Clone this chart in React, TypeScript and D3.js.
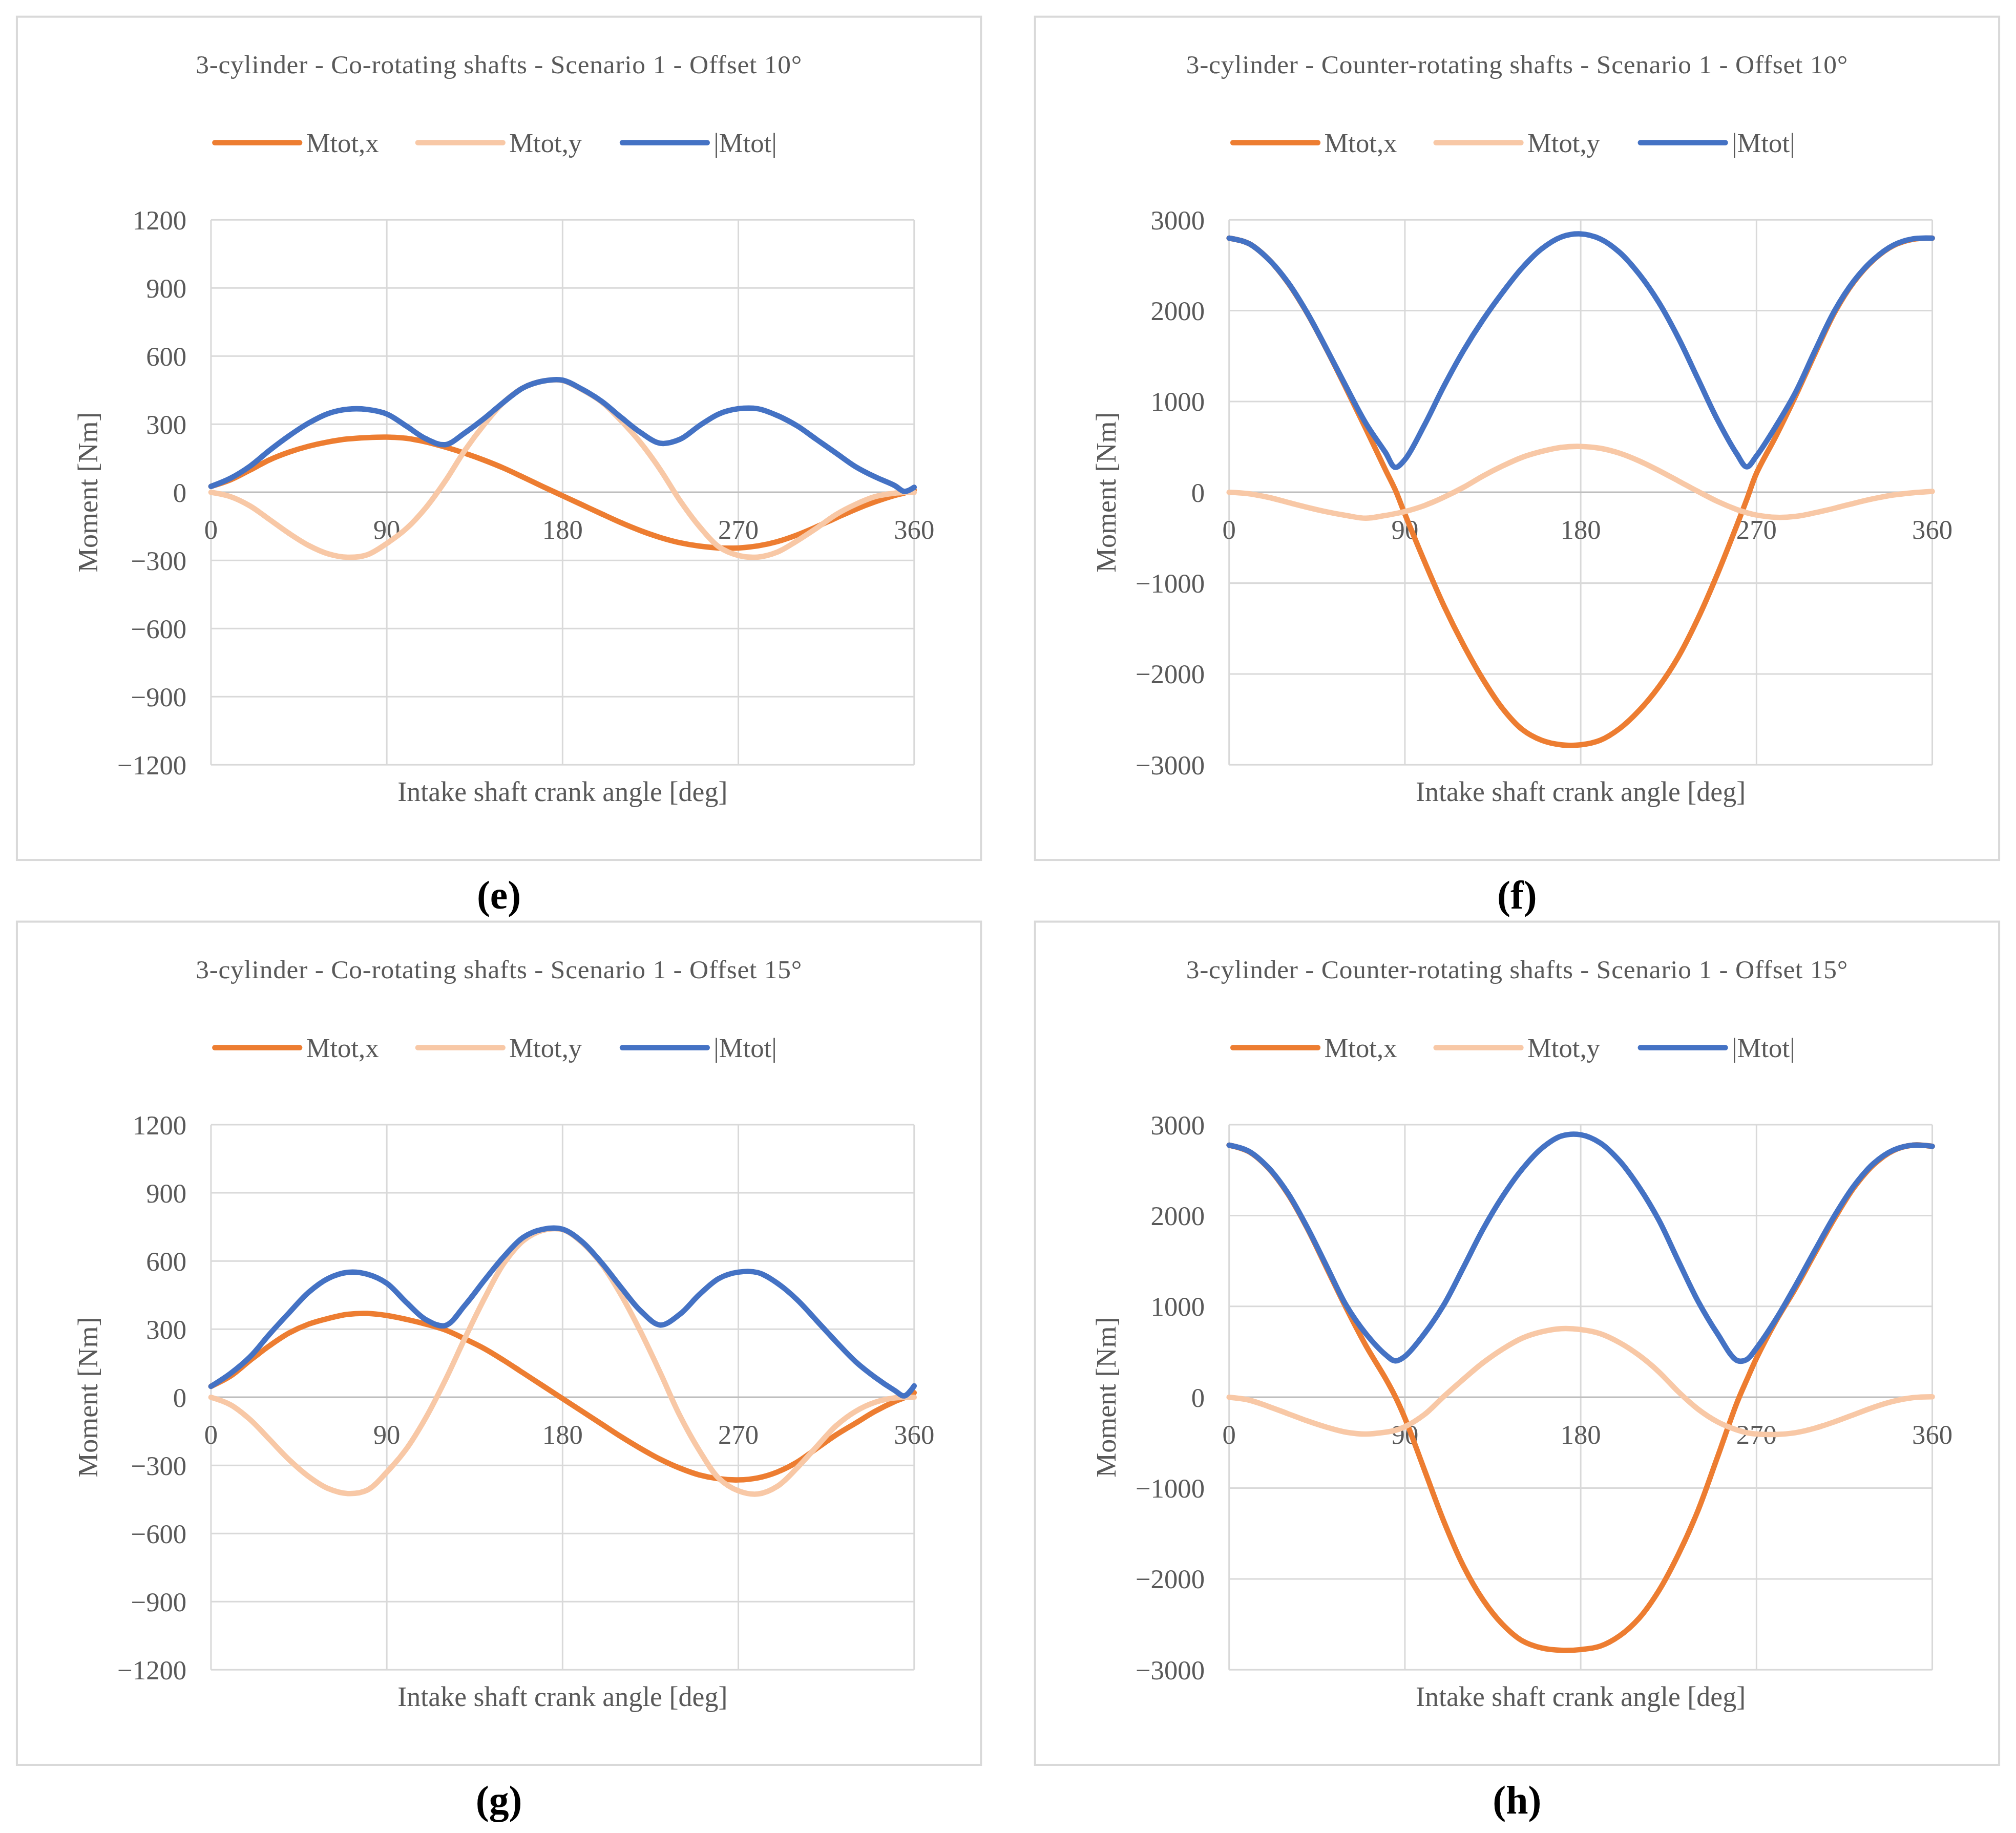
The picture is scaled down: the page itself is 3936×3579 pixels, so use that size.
import React from "react";
import * as d3 from "d3";

// angle samples (deg)
const coAngles = [0, 10, 20, 30, 40, 50, 60, 70, 80, 90, 100, 110, 120, 130, 140, 150, 160, 170, 180,
  190, 200, 210, 220, 230, 240, 250, 260, 270, 280, 290, 300, 310, 320, 330, 340, 350, 355, 360];
// counter-rotating panels get extra points at the sharp |Mtot| dips
const counterAngles = [0, 10, 20, 30, 40, 50, 60, 70, 80, 85, 90, 100, 110, 120, 130, 140, 150, 160, 170, 180,
  190, 200, 210, 220, 230, 240, 250, 260, 265, 270, 280, 290, 300, 310, 320, 330, 340, 350, 360];

const angleTicks = [0, 90, 180, 270, 360];
const coTicks = [-1200, -900, -600, -300, 0, 300, 600, 900, 1200];
const counterTicks = [-3000, -2000, -1000, 0, 1000, 2000, 3000];

// (e) co-rotating, offset 10
const eMx = [26, 55, 98, 143, 177, 203, 222, 235, 241, 243, 238, 222, 199, 172, 141, 106, 66, 25, -15,
  -55, -95, -134, -169, -199, -222, -237, -245, -245, -236, -217, -188, -152, -113, -75, -42, -14, -3, 10];
const eMy = [0, -19, -60, -120, -181, -234, -271, -286, -275, -225, -160, -68, 50, 185, 300, 398, 461, 490, 492,
  452, 398, 315, 218, 100, -35, -150, -240, -278, -285, -263, -214, -158, -98, -53, -19, -4, -1, 0];
const eMabs = [26, 62, 115, 185, 249, 305, 347, 366, 365, 345, 292, 236, 210, 262, 326, 398, 461, 490, 494,
  454, 401, 330, 263, 216, 233, 293, 345, 368, 368, 338, 293, 233, 173, 113, 68, 30, 4, 22];

// (f) counter-rotating, offset 10
const fMx = [2798, 2740, 2570, 2310, 1970, 1570, 1140, 700, 250, 30, -240, -760, -1250, -1680, -2060, -2380, -2610, -2730, -2780, -2780,
  -2730, -2600, -2400, -2140, -1810, -1390, -900, -360, -80, 210, 620, 1060, 1530, 1980, 2320, 2560, 2715, 2785, 2798];
const fMy = [0, -15, -55, -110, -165, -215, -255, -285, -255, -235, -212, -146, -53, 55, 180, 290, 385, 450, 495, 505,
  485, 430, 345, 240, 125, 10, -100, -190, -225, -250, -275, -265, -225, -175, -120, -70, -30, -5, 10];
const fMabs = [2798, 2740, 2570, 2315, 1975, 1575, 1160, 760, 440, 275, 360, 740, 1170, 1560, 1900, 2200, 2470, 2680, 2810, 2845,
  2790, 2640, 2400, 2090, 1700, 1250, 800, 420, 280, 400, 730, 1100, 1560, 2000, 2330, 2565, 2720, 2790, 2798];

// (g) co-rotating, offset 15
const gMx = [48, 93, 162, 227, 283, 322, 347, 365, 369, 360, 343, 322, 296, 257, 214, 162, 106, 50, -6,
  -62, -118, -174, -226, -273, -312, -342, -359, -364, -355, -329, -286, -226, -166, -114, -62, -19, -2, 20];
const gMy = [0, -33, -98, -186, -275, -349, -402, -424, -409, -330, -228, -90, 76, 260, 435, 590, 690, 735, 738,
  681, 586, 450, 288, 108, -80, -234, -357, -412, -426, -392, -312, -218, -126, -62, -22, -3, -1, 0];
const gMabs = [48, 105, 178, 278, 372, 462, 523, 550, 542, 502, 418, 342, 316, 405, 515, 620, 705, 740, 740,
  685, 592, 483, 380, 318, 365, 452, 523, 551, 549, 502, 430, 338, 245, 157, 88, 30, 6, 50];

// (h) counter-rotating, offset 15
const hMx = [2775, 2705, 2525, 2240, 1860, 1420, 980, 570, 210, 10, -230, -800, -1370, -1860, -2230, -2500, -2680, -2760, -2786, -2778,
  -2740, -2625, -2430, -2130, -1730, -1250, -660, -60, 190, 430, 840, 1200, 1590, 1970, 2310, 2560, 2715, 2775, 2763];
const hMy = [0, -30, -100, -180, -260, -330, -385, -405, -385, -365, -325, -190, 10, 200, 380, 530, 650, 720, 755, 745,
  700, 600, 460, 280, 60, -130, -270, -360, -390, -405, -410, -390, -340, -270, -190, -110, -45, -5, 5];
const hMabs = [2775, 2710, 2530, 2250, 1870, 1440, 1010, 700, 470, 400, 450, 700, 1020, 1430, 1850, 2210, 2510, 2740, 2875, 2890,
  2800, 2600, 2310, 1950, 1500, 1060, 700, 405, 415, 540, 860, 1230, 1620, 2000, 2330, 2575, 2720, 2775, 2763];

const seriesNames = ["Mtot,x", "Mtot,y", "|Mtot|"];
const seriesColors = ["#ED7D31", "#F8C8A6", "#4472C4"];

const panels = [
  { label: "(e)", title: "3-cylinder - Co-rotating shafts - Scenario 1 - Offset 10°", px: 13, py: 13,
    angles: coAngles, values: [eMx, eMy, eMabs], ticks: coTicks },
  { label: "(f)", title: "3-cylinder - Counter-rotating shafts - Scenario 1 - Offset 10°", px: 805, py: 13,
    angles: counterAngles, values: [fMx, fMy, fMabs], ticks: counterTicks },
  { label: "(g)", title: "3-cylinder - Co-rotating shafts - Scenario 1 - Offset 15°", px: 13, py: 717,
    angles: coAngles, values: [gMx, gMy, gMabs], ticks: coTicks },
  { label: "(h)", title: "3-cylinder - Counter-rotating shafts - Scenario 1 - Offset 15°", px: 805, py: 717,
    angles: counterAngles, values: [hMx, hMy, hMabs], ticks: counterTicks },
];

const font = "'Liberation Serif', 'DejaVu Serif', serif";
const textColor = "#595959";
const gridColor = "#D9D9D9";
const panelW = 750;
const panelH = 656;
const plot = { left: 151, right: 698, top: 158, bottom: 582 };
const legendX = [154, 312, 471];

const fmt = (v: number) => (v < 0 ? "\u2212" + Math.abs(v) : String(v));

function Panel({ p }: { p: (typeof panels)[number] }) {
  const x = d3.scaleLinear().domain([0, 360]).range([plot.left, plot.right]);
  const y = d3.scaleLinear()
    .domain([p.ticks[0], p.ticks[p.ticks.length - 1]])
    .range([plot.bottom, plot.top]);
  const line = d3.line<[number, number]>()
    .x(d => x(d[0]))
    .y(d => y(d[1]))
    .curve(d3.curveCatmullRom.alpha(0.5));
  const midX = (plot.left + plot.right) / 2;
  const midY = (plot.top + plot.bottom) / 2;

  return (
    <g transform={`translate(${p.px},${p.py})`} fontFamily={font}>
      <rect x={0} y={0} width={panelW} height={panelH} fill="#fff" stroke={gridColor} strokeWidth={1.6} />
      <text x={panelW / 2} y={44} textAnchor="middle" fontSize={20.5} letterSpacing={0.3} fill={textColor}>
        {p.title}
      </text>

      {seriesNames.map((name, i) => (
        <g key={name}>
          <line x1={legendX[i]} x2={legendX[i] + 66} y1={98} y2={98}
            stroke={seriesColors[i]} strokeWidth={4.2} strokeLinecap="round" />
          <text x={legendX[i] + 71} y={98} dy="0.35em" fontSize={21} fill={textColor}>{name}</text>
        </g>
      ))}

      {p.ticks.filter(t => t !== 0).map(t => (
        <line key={"h" + t} x1={plot.left} x2={plot.right} y1={y(t)} y2={y(t)} stroke={gridColor} strokeWidth={1.2} />
      ))}
      {angleTicks.map(a => (
        <line key={"v" + a} x1={x(a)} x2={x(a)} y1={plot.top} y2={plot.bottom} stroke={gridColor} strokeWidth={1.2} />
      ))}
      <line x1={plot.left} x2={plot.right} y1={y(0)} y2={y(0)} stroke="#BFBFBF" strokeWidth={1.4} />

      {p.ticks.map(t => (
        <text key={"yt" + t} x={plot.left - 19} y={y(t)} dy="0.35em" textAnchor="end" fontSize={21} fill={textColor}>
          {fmt(t)}
        </text>
      ))}
      {angleTicks.map(a => (
        <text key={"xt" + a} x={x(a)} y={y(0) + 36} textAnchor="middle" fontSize={21} fill={textColor}>{a}</text>
      ))}

      {p.values.map((vals, i) => (
        <path key={"s" + i}
          d={line(p.angles.map((a, j) => [a, vals[j]] as [number, number])) || ""}
          fill="none" stroke={seriesColors[i]} strokeWidth={4.2}
          strokeLinecap="round" strokeLinejoin="round" />
      ))}

      <text x={midX} y={610} textAnchor="middle" fontSize={21.5} fill={textColor}>
        Intake shaft crank angle [deg]
      </text>
      <text transform={`translate(55,${midY}) rotate(-90)`} textAnchor="middle" dy="0.35em"
        fontSize={21.5} fill={textColor}>
        Moment [Nm]
      </text>

      <text x={panelW / 2} y={694} textAnchor="middle" fontSize={31} fontWeight="bold" fill="#000">
        {p.label}
      </text>
    </g>
  );
}

export default function App() {
  return (
    <svg width={3936} height={3579} viewBox="0 0 1568 1426"
      style={{ position: "absolute", left: 0, top: 0, background: "#fff" }}>
      <rect x={0} y={0} width={1568} height={1426} fill="#fff" />
      {panels.map(p => <Panel key={p.label} p={p} />)}
    </svg>
  );
}
